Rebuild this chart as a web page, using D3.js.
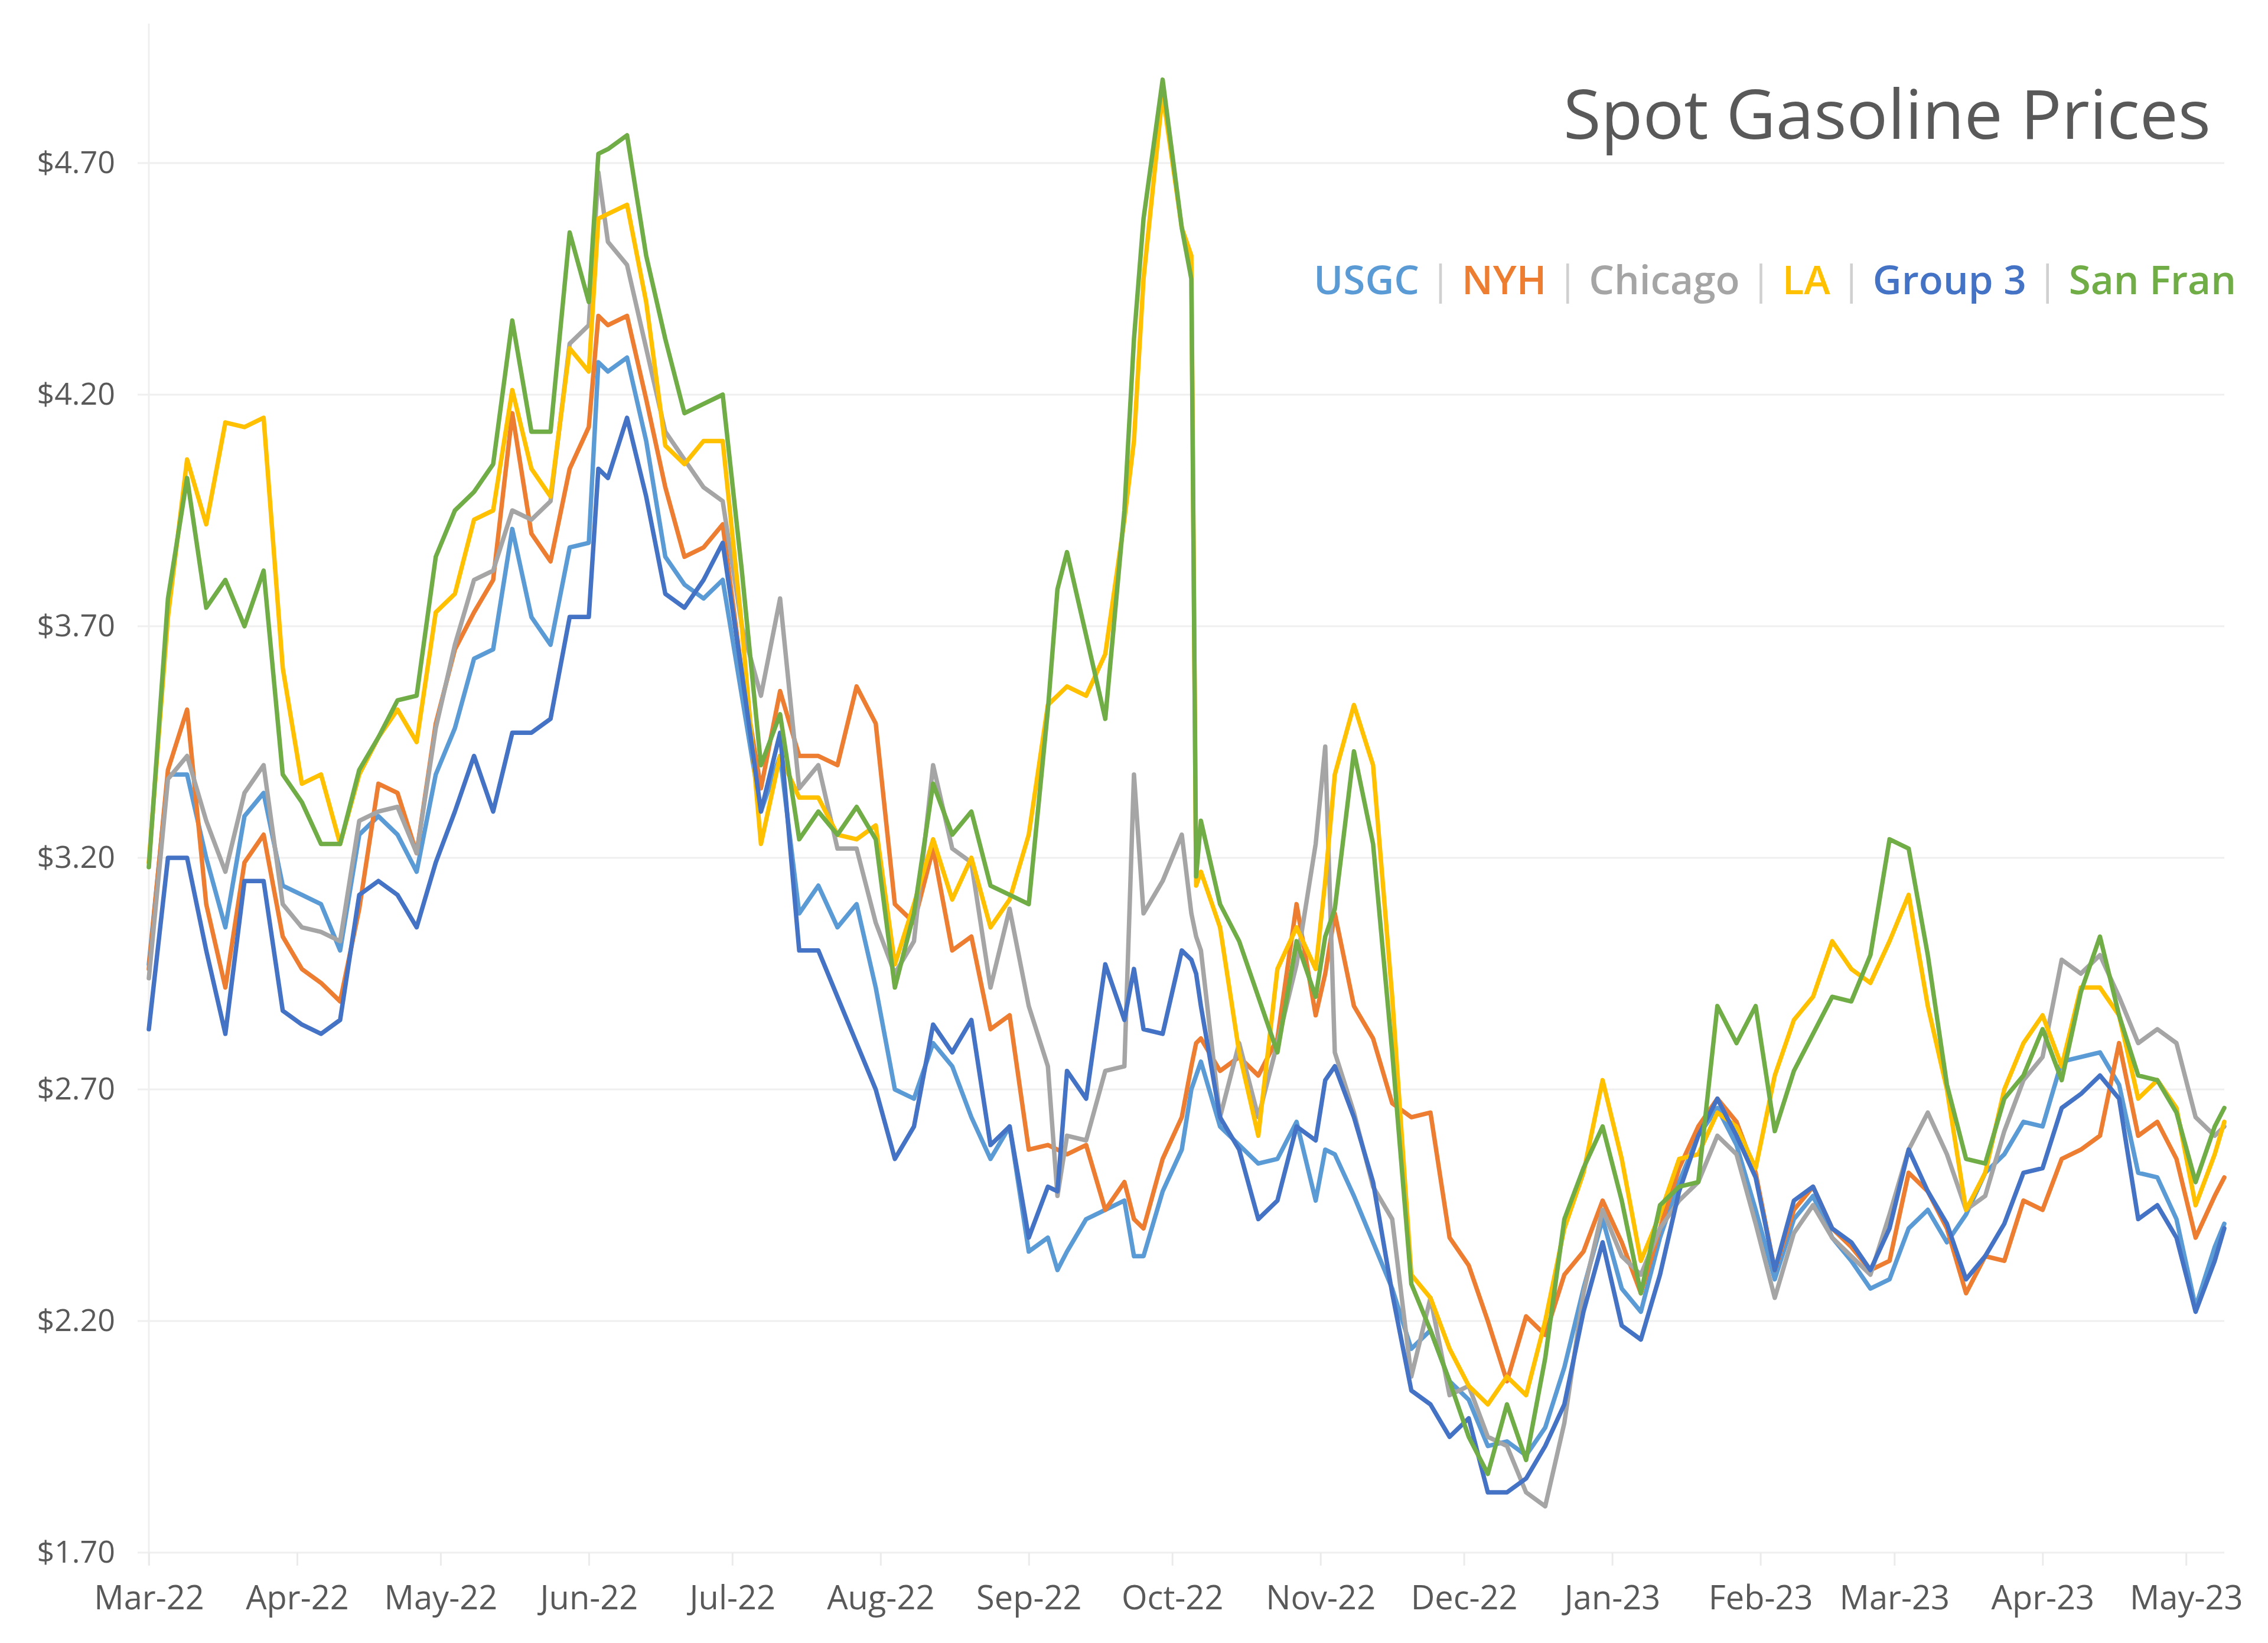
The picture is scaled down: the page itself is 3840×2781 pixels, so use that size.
<!DOCTYPE html>
<html><head><meta charset="utf-8">
<script src="https://cdn.jsdelivr.net/npm/d3@7"></script>
<style>
html,body{margin:0;padding:0;background:#fff;}
svg{display:block;}
</style></head><body>
<svg id="chart" width="3840" height="2781"></svg>
<script>
// ---------- DATA ----------
const dates = [
"2022-03-01","2022-03-05","2022-03-09","2022-03-13","2022-03-17","2022-03-21","2022-03-25","2022-03-29","2022-04-02","2022-04-06","2022-04-10","2022-04-14","2022-04-18","2022-04-22","2022-04-26","2022-04-30","2022-05-04","2022-05-08","2022-05-12",
"2022-05-16","2022-05-20","2022-05-24","2022-05-28","2022-06-01","2022-06-03","2022-06-05","2022-06-09","2022-06-13","2022-06-17","2022-06-21","2022-06-25","2022-06-29","2022-07-03","2022-07-07","2022-07-11","2022-07-15","2022-07-19","2022-07-23",
"2022-07-27","2022-07-31","2022-08-04","2022-08-08","2022-08-12","2022-08-16","2022-08-20","2022-08-24","2022-08-28","2022-09-01","2022-09-05","2022-09-07","2022-09-09","2022-09-13","2022-09-17","2022-09-21","2022-09-23","2022-09-25","2022-09-29","2022-10-03","2022-10-05","2022-10-06",
"2022-10-07","2022-10-11","2022-10-15","2022-10-19","2022-10-23","2022-10-27","2022-10-31","2022-11-02","2022-11-04","2022-11-08","2022-11-12","2022-11-16","2022-11-20","2022-11-24","2022-11-28","2022-12-02","2022-12-06","2022-12-10","2022-12-14",
"2022-12-18","2022-12-22","2022-12-26","2022-12-30","2023-01-03","2023-01-07","2023-01-11","2023-01-15","2023-01-19","2023-01-23","2023-01-27","2023-01-31","2023-02-04","2023-02-08","2023-02-12","2023-02-16","2023-02-20","2023-02-24",
"2023-02-28","2023-03-04","2023-03-08","2023-03-12","2023-03-16","2023-03-20","2023-03-24","2023-03-28","2023-04-01","2023-04-05","2023-04-09","2023-04-13","2023-04-17","2023-04-21","2023-04-25","2023-04-29","2023-05-03","2023-05-07","2023-05-09"
];

const usgc = [
2.97,3.38,3.38,3.20,3.05,3.29,3.34,3.14,3.12,3.10,3.00,3.25,3.29,3.25,3.17,3.38,3.48,3.63,3.65,
3.91,3.72,3.66,3.87,3.88,4.27,4.25,4.28,4.10,3.85,3.79,3.76,3.80,3.55,3.30,3.42,3.08,3.14,3.05,
3.10,2.92,2.70,2.68,2.80,2.75,2.64,2.55,2.62,2.35,2.38,2.31,2.35,2.42,2.44,2.46,2.34,2.34,2.48,2.57,2.70,2.73,
2.76,2.62,2.58,2.54,2.55,2.63,2.46,2.57,2.56,2.47,2.37,2.27,2.14,2.18,2.07,2.03,1.93,1.94,1.91,
1.97,2.10,2.27,2.42,2.27,2.22,2.38,2.50,2.60,2.66,2.58,2.44,2.29,2.42,2.47,2.38,2.33,2.27,
2.29,2.40,2.44,2.37,2.43,2.52,2.56,2.63,2.62,2.76,2.77,2.78,2.71,2.52,2.51,2.42,2.23,2.36,2.41
];

const nyh = [
2.96,3.39,3.52,3.10,2.92,3.19,3.25,3.03,2.96,2.93,2.89,3.09,3.36,3.34,3.21,3.49,3.65,3.73,3.80,
4.16,3.90,3.84,4.04,4.13,4.37,4.35,4.37,4.19,4.00,3.85,3.87,3.92,3.60,3.35,3.56,3.42,3.42,3.40,
3.57,3.49,3.10,3.06,3.22,3.00,3.03,2.83,2.86,2.57,2.58,2.57,2.56,2.58,2.44,2.50,2.42,2.40,2.55,2.64,2.75,2.80,
2.81,2.74,2.77,2.73,2.81,3.10,2.86,2.95,3.08,2.88,2.81,2.67,2.64,2.65,2.38,2.32,2.20,2.07,2.21,
2.17,2.30,2.35,2.46,2.37,2.26,2.40,2.53,2.62,2.68,2.63,2.52,2.31,2.44,2.49,2.40,2.36,2.31,
2.33,2.52,2.48,2.40,2.26,2.34,2.33,2.46,2.44,2.55,2.57,2.60,2.80,2.60,2.63,2.55,2.38,2.47,2.51
];

const chicago = [
2.94,3.37,3.42,3.28,3.17,3.34,3.40,3.10,3.05,3.04,3.02,3.28,3.30,3.31,3.21,3.48,3.66,3.80,3.82,
3.95,3.93,3.97,4.31,4.35,4.68,4.53,4.48,4.30,4.12,4.06,4.00,3.97,3.70,3.55,3.76,3.35,3.40,3.22,
3.22,3.06,2.95,3.02,3.40,3.22,3.19,2.92,3.09,2.88,2.75,2.47,2.60,2.59,2.74,2.75,3.38,3.08,3.15,3.25,3.08,3.03,
3.00,2.64,2.80,2.64,2.80,2.97,3.23,3.44,2.78,2.65,2.49,2.42,2.08,2.25,2.04,2.06,1.95,1.93,1.83,
1.80,1.98,2.26,2.44,2.34,2.30,2.40,2.46,2.50,2.60,2.56,2.41,2.25,2.39,2.45,2.38,2.34,2.30,
2.43,2.57,2.65,2.56,2.44,2.47,2.61,2.72,2.77,2.98,2.95,2.99,2.90,2.80,2.83,2.80,2.64,2.60,2.62
];

const la = [
3.19,3.72,4.06,3.92,4.14,4.13,4.15,3.61,3.36,3.38,3.23,3.38,3.46,3.52,3.45,3.73,3.77,3.93,3.95,
4.21,4.04,3.98,4.30,4.25,4.58,4.59,4.61,4.40,4.09,4.05,4.10,4.10,3.70,3.23,3.42,3.33,3.33,3.25,
3.24,3.27,2.97,3.10,3.24,3.11,3.20,3.05,3.11,3.25,3.53,3.55,3.57,3.55,3.64,3.93,4.10,4.45,4.85,4.56,4.50,3.14,
3.17,3.05,2.78,2.60,2.96,3.05,2.96,3.15,3.38,3.53,3.40,2.90,2.30,2.25,2.14,2.06,2.02,2.08,2.04,
2.20,2.40,2.52,2.72,2.55,2.33,2.43,2.55,2.56,2.65,2.62,2.53,2.73,2.85,2.90,3.02,2.96,2.93,
3.02,3.12,2.88,2.70,2.44,2.52,2.70,2.80,2.86,2.75,2.92,2.92,2.86,2.68,2.72,2.66,2.45,2.56,2.63
];

const group3 = [
2.83,3.20,3.20,3.00,2.82,3.15,3.15,2.87,2.84,2.82,2.85,3.12,3.15,3.12,3.05,3.19,3.30,3.42,3.30,
3.47,3.47,3.50,3.72,3.72,4.04,4.02,4.15,3.98,3.77,3.74,3.80,3.88,3.60,3.30,3.47,3.00,3.00,2.90,
2.80,2.70,2.55,2.62,2.84,2.78,2.85,2.58,2.62,2.38,2.49,2.48,2.74,2.68,2.97,2.85,2.96,2.83,2.82,3.00,2.98,2.95,
2.88,2.64,2.57,2.42,2.46,2.62,2.59,2.72,2.75,2.64,2.50,2.26,2.05,2.02,1.95,1.99,1.83,1.83,1.86,
1.93,2.02,2.22,2.37,2.19,2.16,2.30,2.48,2.60,2.68,2.60,2.51,2.31,2.46,2.49,2.40,2.37,2.31,
2.40,2.57,2.48,2.41,2.29,2.34,2.41,2.52,2.53,2.66,2.69,2.73,2.68,2.42,2.45,2.38,2.22,2.33,2.40
];

const sanFran = [
3.18,3.76,4.02,3.74,3.80,3.70,3.82,3.38,3.32,3.23,3.23,3.39,3.46,3.54,3.55,3.85,3.95,3.99,4.05,
4.36,4.12,4.12,4.55,4.40,4.72,4.73,4.76,4.50,4.32,4.16,4.18,4.20,3.82,3.40,3.51,3.24,3.30,3.25,
3.31,3.24,2.92,3.08,3.36,3.25,3.30,3.14,3.12,3.10,3.52,3.78,3.86,3.68,3.50,3.95,4.32,4.58,4.88,4.56,4.45,3.16,
3.28,3.10,3.02,2.90,2.78,3.02,2.90,3.03,3.09,3.43,3.23,2.78,2.28,2.18,2.07,1.95,1.87,2.02,1.90,
2.12,2.42,2.53,2.62,2.46,2.26,2.45,2.49,2.50,2.88,2.80,2.88,2.61,2.74,2.82,2.90,2.89,2.99,
3.24,3.22,2.99,2.71,2.55,2.54,2.68,2.73,2.83,2.72,2.91,3.03,2.86,2.73,2.72,2.65,2.50,2.62,2.66
];

const seriesNames = ["USGC", "NYH", "Chicago", "LA", "Group 3", "San Fran"];
const yTickValues = [1.70, 2.20, 2.70, 3.20, 3.70, 4.20, 4.70];
const chartTitle = "Spot Gasoline Prices";

// ---------- STYLE ----------
const seriesColors = ["#5B9BD5", "#ED7D31", "#A5A5A5", "#FFC000", "#4472C4", "#70AD47"];
const seriesValues = [usgc, nyh, chicago, la, group3, sanFran];

const svg = d3.select("#chart");
svg.append("rect").attr("width", 3840).attr("height", 2781).attr("fill", "#fff");

const plotLeft = 252, plotRight = 3766, plotBottom = 2628, plotTop4_70 = 276;
const parse = d3.utcParse("%Y-%m-%d");
const parsedDates = dates.map(parse);

const x = d3.scaleUtc()
  .domain([parsedDates[0], parsedDates[parsedDates.length - 1]])
  .range([plotLeft, plotRight]);
const y = d3.scaleLinear()
  .domain([yTickValues[0], yTickValues[yTickValues.length - 1]])
  .range([plotBottom, plotTop4_70]);

const FONT = "'Open Sans', 'Noto Sans', 'DejaVu Sans', sans-serif";

// gridlines
svg.append("g").selectAll("line").data(yTickValues).join("line")
  .attr("x1", plotLeft - 19).attr("x2", plotRight)
  .attr("y1", d => y(d)).attr("y2", d => y(d))
  .attr("stroke", "#EFEFEF").attr("stroke-width", 3);

// vertical axis line
svg.append("line")
  .attr("x1", plotLeft).attr("x2", plotLeft)
  .attr("y1", 40).attr("y2", plotBottom + 22)
  .attr("stroke", "#EFEFEF").attr("stroke-width", 3);

// y axis labels
const yAxis = d3.axisLeft(y)
  .tickValues(yTickValues)
  .tickFormat(d => "$" + d.toFixed(2))
  .tickSize(0).tickPadding(57);
const gy = svg.append("g").attr("transform", `translate(${plotLeft},0)`).call(yAxis);
gy.select(".domain").remove();
gy.selectAll("text").attr("font-family", FONT).attr("font-size", 52).attr("fill", "#595959");

// x axis
const xAxis = d3.axisBottom(x)
  .ticks(d3.utcMonth.every(1))
  .tickFormat(d3.utcFormat("%b-%y"))
  .tickSize(22).tickPadding(34);
const gx = svg.append("g").attr("transform", `translate(0,${plotBottom})`).call(xAxis);
gx.select(".domain").remove();
gx.selectAll(".tick line").attr("stroke", "#EBEBEB").attr("stroke-width", 3);
gx.selectAll("text").attr("font-family", FONT).attr("font-size", 56).attr("fill", "#595959");

// lines
const line = d3.line()
  .x((d, i) => x(parsedDates[i]))
  .y(d => y(d));

svg.append("g").selectAll("path")
  .data(seriesValues)
  .join("path")
  .attr("d", d => line(d))
  .attr("fill", "none")
  .attr("stroke", (d, i) => seriesColors[i])
  .attr("stroke-width", 7.5)
  .attr("stroke-linejoin", "round")
  .attr("stroke-linecap", "round");

// title
const titleText = svg.append("text")
  .attr("x", 3743).attr("y", 235)
  .attr("text-anchor", "end")
  .attr("font-family", FONT)
  .attr("font-size", 118)
  .attr("fill", "#595959")
  .text(chartTitle);
{
  const w = titleText.node().getBBox().width;
  titleText.attr("font-size", 118 * 1096 / w);
}

// legend
const legend = svg.append("text")
  .attr("x", 3786).attr("y", 498)
  .attr("text-anchor", "end")
  .attr("font-family", FONT)
  .attr("font-weight", 600)
  .attr("font-size", 70);
seriesNames.forEach((name, i) => {
  if (i > 0) {
    legend.append("tspan").attr("fill", "#D0D0D0").attr("font-weight", 400).text(" | ");
  }
  legend.append("tspan").attr("fill", seriesColors[i]).text(name);
});
{
  const w = legend.node().getBBox().width;
  legend.attr("font-size", 70 * 1562 / w);
}
</script>
</body></html>
